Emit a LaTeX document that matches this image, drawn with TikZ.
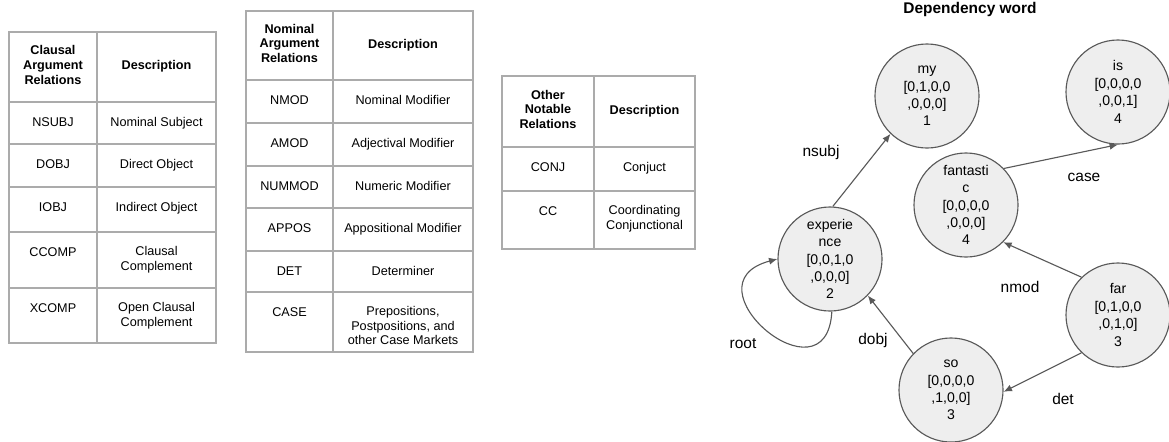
\documentclass[tikz,border=0pt]{standalone}
\usepackage{fontspec}
\setmainfont{Liberation Sans}
\usetikzlibrary{arrows.meta}
\definecolor{tgray}{HTML}{ABABAB}
\definecolor{ngray}{HTML}{EEEEEE}
\definecolor{dgray}{HTML}{595959}
\newcommand{\tfont}{\fontsize{9}{10.5}\selectfont}
\newcommand{\tabsetup}[3]{\edef\tL{#1}\edef\tM{#2}\edef\tR{#3}}
\newcommand{\tabbox}[2]{%
  \draw[tline] (\tL,#1) rectangle (\tR,#2);
  \draw[tline] (\tM,#1) -- (\tM,#2);}
\newcommand{\tabhead}[4]{\tabbox{#2}{#3}%
  \node[tcell,font=\tfont\bfseries] (#1r) at ({(\tL+\tM)/2},{(#2+#3)/2}) {#4};
  \node[tcell,font=\tfont\bfseries] (#1d) at ({(\tM+\tR)/2},{(#2+#3)/2}) {Description};}
\newcommand{\tabrow}[5]{\tabbox{#2}{#3}%
  \node[tcell,anchor=north] (#1r) at ({(\tL+\tM)/2},{#2+14}) {#4};
  \node[tcell,anchor=north] (#1d) at ({(\tM+\tR)/2},{#2+14}) {#5};}
\begin{document}
\begin{tikzpicture}[x=0.025cm,y=-0.025cm,
  tline/.style={draw=tgray,line width=0.9pt},
  tcell/.style={inner sep=0pt,align=center,font=\tfont,execute at begin node=\strut},
  word/.style={circle,draw=dgray,fill=ngray,line width=0.8pt,minimum size=2.6cm,
    inner sep=0pt,align=center,font=\fontsize{10}{12.4}\selectfont},
  dep/.style={draw=dgray,line width=0.8pt,-{Latex[length=6pt,width=5pt]}},
  elabel/.style={inner sep=0pt,font=\fontsize{11}{13}\selectfont}]
  \useasboundingbox (0,0) rectangle (1169,441);
  % clausal argument relations
  \tabsetup{9}{97}{216}
  \tabhead{ca}{32}{102}{Clausal\\Argument\\Relations}
  \tabrow{nsubj}{102}{144}{NSUBJ}{Nominal Subject}
  \tabrow{dobj}{144}{187}{DOBJ}{Direct Object}
  \tabrow{iobj}{187}{232}{IOBJ}{Indirect Object}
  \tabrow{ccomp}{232}{288}{CCOMP}{Clausal\\Complement}
  \tabrow{xcomp}{288}{343}{XCOMP}{Open Clausal\\Complement}
  % nominal argument relations
  \tabsetup{246}{333}{473}
  \tabhead{na}{11}{80}{Nominal\\Argument\\Relations}
  \tabrow{nmod}{80}{123}{NMOD}{Nominal Modifier}
  \tabrow{amod}{123}{166}{AMOD}{Adjectival Modifier}
  \tabrow{nummod}{166}{208}{NUMMOD}{Numeric Modifier}
  \tabrow{appos}{208}{251}{APPOS}{Appositional Modifier}
  \tabrow{det}{251}{292}{DET}{Determiner}
  \tabrow{case}{292}{352}{CASE}{Prepositions,\\Postpositions, and\\other Case Markets}
  % other notable relations
  \tabsetup{502}{594}{695}
  \tabhead{on}{76}{147}{Other\\Notable\\Relations}
  \tabrow{conj}{147}{191}{CONJ}{Conjuct}
  \tabrow{cc}{191}{249}{CC}{Coordinating\\Conjunctional}
  % dependency graph
  \node[anchor=base,font=\fontsize{11}{13}\selectfont\bfseries] (title) at (970,13) {Dependency word};
  \node[word] (exp) at (830,259) {experie\\nce\\{[}0,0,1,0\\,0,0,0]\\2};
  \node[word] (my) at (927,96) {my\\{[}0,1,0,0\\,0,0,0]\\1};
  \node[word] (fan) at (966,205) {fantasti\\c\\{[}0,0,0,0\\,0,0,0]\\4};
  \node[word] (is) at (1118,92) {is\\{[}0,0,0,0\\,0,0,1]\\4};
  \node[word] (far) at (1118,315) {far\\{[}0,1,0,0\\,0,1,0]\\3};
  \node[word] (so) at (951,390) {so\\{[}0,0,0,0\\,1,0,0]\\3};
  \draw[dep] (exp.87) -- (my.226);
  \draw[dep] (fan.44) -- (is.270);
  \draw[dep] (far.134) -- (fan.315);
  \draw[dep] (far.226) -- (so.358);
  \draw[dep] (so.136) -- (exp.316);
  \draw[dep] (exp.272) .. controls +(-5,95) and +(-95,25) .. (exp.180);
  \node[elabel] (lnsubj) at (821,152) {nsubj};
  \node[elabel] (lcase) at (1084,177) {case};
  \node[elabel] (lnmod) at (1020,287) {nmod};
  \node[elabel] (ldet) at (1063,399) {det};
  \node[elabel] (ldobj) at (873,340) {dobj};
  \node[elabel] (lroot) at (743,344) {root};
\end{tikzpicture}
\end{document}
